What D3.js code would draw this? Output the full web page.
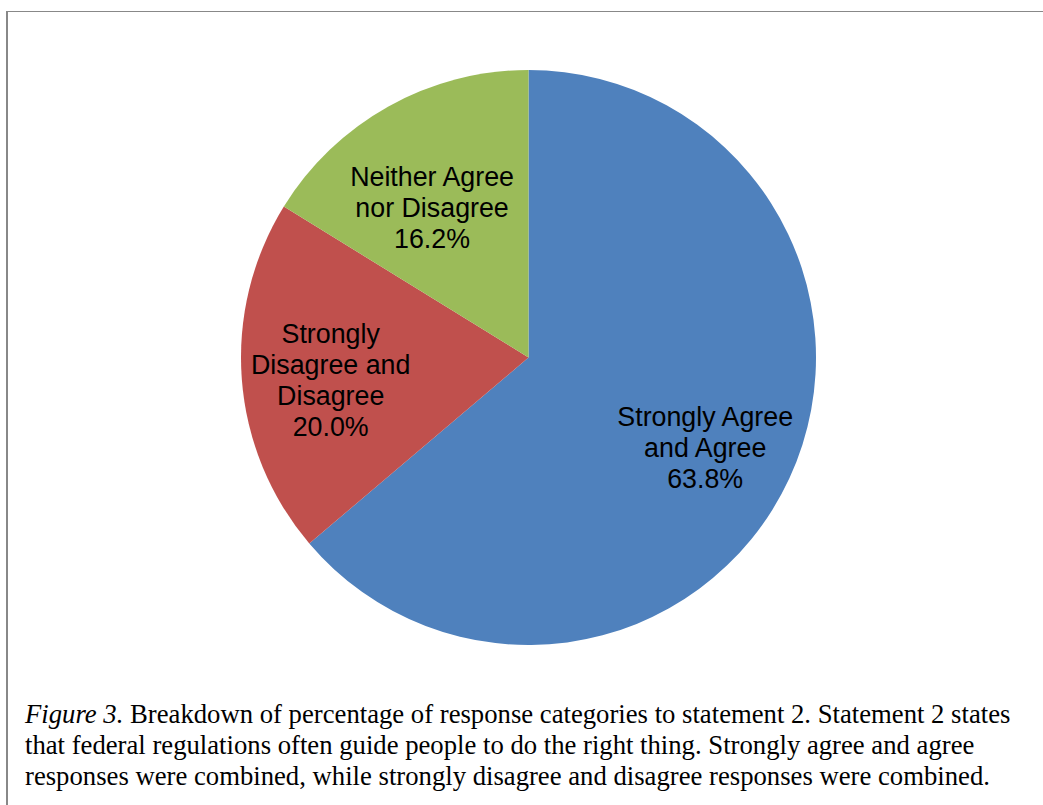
<!DOCTYPE html>
<html>
<head>
<meta charset="utf-8">
<script src="https://cdn.jsdelivr.net/npm/d3@7"></script>
<style>
  html, body { margin: 0; padding: 0; background: #fff; }
  svg { display: block; }
</style>
</head>
<body>
<svg id="chart" width="1043" height="805"></svg>
<script>
// Response categories for statement 2 (percent of respondents)
const categories = [
  ["Strongly Agree", "and Agree"],
  ["Strongly", "Disagree and", "Disagree"],
  ["Neither Agree", "nor Disagree"]
];
const values = [63.8, 20.0, 16.2];
const colors = ["#4F81BD", "#C0504D", "#9BBB59"];

const captionLines = [
  [{ t: "Figure 3.", i: true }, { t: " Breakdown of percentage of response categories to statement 2. Statement 2 states", i: false }],
  [{ t: "that federal regulations often guide people to do the right thing. Strongly agree and agree", i: false }],
  [{ t: "responses were combined, while strongly disagree and disagree responses were combined.", i: false }]
];

const svg = d3.select("#chart");
const W = 1043, H = 805;

// Frame lines (left and top edges)
svg.append("line").attr("x1", 7).attr("x2", 7).attr("y1", 11).attr("y2", H)
  .attr("stroke", "#888").attr("stroke-width", 2);
svg.append("line").attr("x1", 6).attr("x2", W).attr("y1", 11.5).attr("y2", 11.5)
  .attr("stroke", "#888").attr("stroke-width", 1.2);

const cx = 528.5, cy = 357.5, R = 287.5;
// label distance from centre (share of radius) and small nudges, per slice
const labelRadius = [0.685, 0.69, 0.61];
const labelNudge = [[-2, 0], [0, 0], [-11, -4]];

const pie = d3.pie().value(d => d).sort(null);
const arcs = pie(values);
const arc = d3.arc().innerRadius(0).outerRadius(R);

const g = svg.append("g").attr("transform", `translate(${cx},${cy})`);
g.selectAll("path.slice").data(arcs).join("path")
  .attr("class", "slice")
  .attr("d", arc)
  .attr("fill", (d, i) => colors[i])
  .attr("stroke", "none");

const lineH = 31;
arcs.forEach((d, i) => {
  const mid = (d.startAngle + d.endAngle) / 2;
  const r = R * labelRadius[i];
  const x = Math.sin(mid) * r + labelNudge[i][0];
  const y = -Math.cos(mid) * r + labelNudge[i][1];
  const lines = categories[i].concat([values[i].toFixed(1) + "%"]);
  const t = g.append("text")
    .attr("text-anchor", "middle")
    .attr("font-family", "'Liberation Sans', Arial, sans-serif")
    .attr("font-size", 26.8)
    .attr("fill", "#000");
  const y0 = y - (lines.length - 1) * lineH / 2 + 17;
  lines.forEach((ln, k) => {
    t.append("tspan").attr("x", x).attr("y", y0 + k * lineH).text(ln);
  });
});

// Caption
const cap = svg.append("g")
  .attr("font-family", "'Liberation Serif', 'Times New Roman', serif")
  .attr("font-size", 26.7)
  .attr("fill", "#000");
captionLines.forEach((parts, k) => {
  const t = cap.append("text").attr("x", 25).attr("y", 723 + k * 31);
  parts.forEach(p => {
    t.append("tspan").attr("font-style", p.i ? "italic" : "normal").text(p.t);
  });
});
</script>
</body>
</html>
